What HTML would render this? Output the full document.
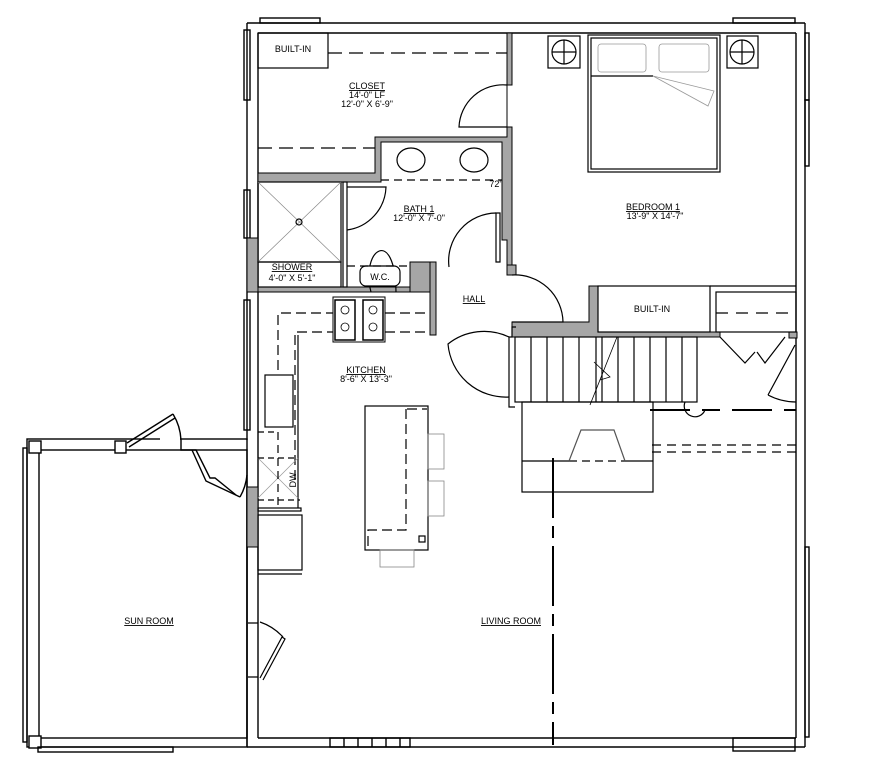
<!DOCTYPE html>
<html><head><meta charset="utf-8"><style>
html,body{margin:0;padding:0;background:#fff;}
svg{display:block;}
text{font-family:"Liberation Sans",sans-serif;font-size:9px;fill:#000;}
</style></head><body>
<svg width="891" height="776" viewBox="0 0 891 776" xmlns="http://www.w3.org/2000/svg">
<g fill="none" stroke="#000" stroke-width="1.4">
<!-- main house outer walls -->
<line x1="247" y1="23" x2="805" y2="23"/>
<line x1="258" y1="33" x2="796" y2="33"/>
<line x1="247" y1="23" x2="247" y2="440"/>
<line x1="258" y1="33" x2="258" y2="738"/>
<line x1="247" y1="487" x2="247" y2="747"/>
<line x1="805" y1="23" x2="805" y2="747"/>
<line x1="796" y1="33" x2="796" y2="738"/>
<line x1="258" y1="738" x2="796" y2="738"/>
<line x1="247" y1="747" x2="805" y2="747"/>
<!-- windows -->
<rect x="244" y="30" width="6" height="70"/>
<rect x="244" y="190" width="6" height="48"/>
<rect x="244" y="300" width="6" height="130"/>
<rect x="805" y="33" width="4" height="67"/>
<rect x="805" y="100" width="4" height="66"/>
<rect x="805" y="547" width="4" height="190"/>
<rect x="733" y="738" width="62" height="13"/>
<rect x="330" y="738" width="80" height="9"/>
<line x1="344" y1="738" x2="344" y2="747"/><line x1="358" y1="738" x2="358" y2="747"/><line x1="372" y1="738" x2="372" y2="747"/><line x1="386" y1="738" x2="386" y2="747"/><line x1="400" y1="738" x2="400" y2="747"/>
<rect x="260" y="18" width="60" height="5"/>
<rect x="733" y="18" width="62" height="5"/>
<!-- sun room -->
<rect x="27" y="439" width="220" height="308"/>
<rect x="39" y="450" width="208" height="288"/>
<rect x="23" y="448" width="4" height="294"/>
<rect x="29" y="441" width="12" height="12" fill="#fff"/>
<rect x="29" y="736" width="12" height="12" fill="#fff"/>
<rect x="115" y="441" width="11" height="12" fill="#fff"/>
<rect x="38" y="747" width="135" height="5"/>
<line x1="160" y1="439" x2="180" y2="439" stroke="#fff" stroke-width="14"/>
<line x1="127" y1="443" x2="173" y2="414"/><line x1="129" y1="447" x2="175" y2="418"/>
<path d="M173 414 A55 55 0 0 1 181 440"/>
<path d="M181 440 L181 450 L196 450 L210 478 L215 478 L236 495"/>
<path d="M192 450 L206 481 L240 497"/>
<path d="M240 497 A55 55 0 0 0 247 475"/>
</g>
<!-- gray walls -->
<g fill="#a6a6a6" stroke="#000" stroke-width="1">
<rect x="247" y="238" width="11" height="54"/>
<rect x="247" y="487" width="11" height="60"/>
<path d="M258 173 H375 V137 H507 V33 H512 V85 H507 V127 H512 V272 H507 V240 H502 V142 H381 V182 H258 Z"/>
<path d="M258 287 H410 V262 H432 V335 H436 V292 H258 Z"/>
<path d="M410 262 H432 V292 H410 Z"/>
<rect x="430" y="262" width="6" height="73"/>
<path d="M507 265 H516 V275 H507 Z"/>
<path d="M512 322 H589 V286 H598 V332 H720 V337 H512 Z"/>
<rect x="789" y="332" width="8" height="6"/>
</g>
<g fill="none" stroke="#000" stroke-width="1.2">
<!-- closet -->
<rect x="258" y="33" width="70" height="35"/>
<line x1="328" y1="53" x2="507" y2="53" stroke-dasharray="14 7"/>
<line x1="258" y1="148" x2="375" y2="148" stroke-dasharray="14 7"/>
<path d="M507 85 A44 44 0 0 0 459 127 H507"/>
<!-- bath -->
<ellipse cx="411" cy="160" rx="14" ry="12"/>
<ellipse cx="474" cy="160" rx="14" ry="12"/>
<line x1="381" y1="180" x2="502" y2="180" stroke-dasharray="8 5"/>
<rect x="343" y="182" width="4" height="105"/>
<path d="M347 187 H386 A45 45 0 0 1 347 230"/>
<path d="M371 292 C360 250 395 225 396 292"/>
<rect x="360" y="266" width="40" height="20" rx="6" fill="#fff"/>
<line x1="347" y1="266" x2="410" y2="266" stroke-dasharray="8 5"/>
<path d="M496 213 H500 V262 H496 Z"/>
<path d="M496 213 A48 48 0 0 0 449 267"/>
<!-- shower -->
<rect x="258" y="182" width="83" height="80"/>
<line x1="258" y1="182" x2="341" y2="262" stroke="#888" stroke-width="0.7"/>
<line x1="341" y1="182" x2="258" y2="262" stroke="#888" stroke-width="0.7"/>
<circle cx="299" cy="222" r="3"/>
<rect x="258" y="262" width="83" height="25"/>
<!-- bedroom -->
<rect x="548" y="36" width="32" height="32"/><circle cx="564" cy="52" r="12"/><line x1="564" y1="40" x2="564" y2="64"/><line x1="552" y1="52" x2="576" y2="52"/>
<rect x="727" y="36" width="31" height="32"/><circle cx="742" cy="52" r="12"/><line x1="742" y1="40" x2="742" y2="64"/><line x1="730" y1="52" x2="754" y2="52"/>
<rect x="588" y="35" width="132" height="137"/>
<rect x="591" y="38" width="126" height="131"/>
<line x1="591" y1="76" x2="653" y2="76"/>
<g stroke="#999" stroke-width="0.8"><rect x="598" y="44" width="48" height="28" rx="3"/><rect x="659" y="44" width="50" height="28" rx="3"/><path d="M653 76 L714 91 L708 106 Z"/></g>
<rect x="598" y="286" width="112" height="46"/>
<line x1="710" y1="286" x2="796" y2="286"/>
<rect x="716" y="292" width="80" height="40"/>
<line x1="716" y1="313" x2="796" y2="313" stroke-dasharray="12 8"/>
<path d="M720 337 L745 363 L755 352 M785 337 L765 363 L757 352"/>
<path d="M795 345 L768 395 M768 395 A60 60 0 0 0 796 402"/>
<!-- hall door -->
<path d="M512 275 A48 48 0 0 1 563 322 H512"/>
<path d="M516 327 H512 V337 H509 V407 H515"/>
<path d="M509 337 A58 58 0 0 0 448 344 A58 58 0 0 0 509 397"/>
<!-- stairs -->
<rect x="515" y="337" width="182" height="65"/>
<g><line x1="531" y1="337" x2="531" y2="402"/><line x1="547" y1="337" x2="547" y2="402"/><line x1="563" y1="337" x2="563" y2="402"/><line x1="579" y1="337" x2="579" y2="402"/><line x1="596" y1="337" x2="596" y2="402"/><line x1="602" y1="337" x2="602" y2="402"/><line x1="618" y1="337" x2="618" y2="402"/><line x1="634" y1="337" x2="634" y2="402"/><line x1="650" y1="337" x2="650" y2="402"/><line x1="666" y1="337" x2="666" y2="402"/><line x1="682" y1="337" x2="682" y2="402"/></g>
<path d="M617 337 L590 405 M594 362 L610 377 L600 380" stroke-width="0.8"/>
<path d="M685 402 A10 10 0 0 0 705 410"/>
<line x1="650" y1="410" x2="796" y2="410" stroke-width="2" stroke-dasharray="40 12 18 12"/>
<line x1="652" y1="445" x2="796" y2="445" stroke-dasharray="9 6"/>
<line x1="652" y1="452" x2="796" y2="452" stroke-dasharray="9 6"/>
<!-- fireplace -->
<rect x="522" y="402" width="131" height="90"/>
<line x1="522" y1="461" x2="569" y2="461"/>
<line x1="569" y1="461" x2="625" y2="461" stroke-dasharray="8 5"/>
<line x1="625" y1="461" x2="653" y2="461"/>
<path d="M569 461 L581 430 H614 L625 461" stroke="#555"/>
<line x1="553" y1="458" x2="553" y2="745" stroke-width="2" stroke-dasharray="60 8 12 8"/>
<!-- kitchen -->
<path d="M278 370 V313 H333 M385 313 H430" stroke-dasharray="10 5"/>
<path d="M295 480 V332 H333 M385 332 H430" stroke-dasharray="10 5"/>
<line x1="298" y1="335" x2="298" y2="508"/>
<rect x="333" y="297" width="52" height="45" stroke-width="1"/>
<rect x="335" y="300" width="20" height="40" stroke-width="1.5"/><rect x="363" y="300" width="20" height="40" stroke-width="1.5"/>
<circle cx="345" cy="310" r="4" stroke-width="0.8"/><circle cx="345" cy="327" r="4" stroke-width="0.8"/><circle cx="373" cy="310" r="4" stroke-width="0.8"/><circle cx="373" cy="327" r="4" stroke-width="0.8"/>
<rect x="265" y="375" width="28" height="52"/>
<line x1="258" y1="432" x2="278" y2="432" stroke-dasharray="6 4"/>
<rect x="258" y="458" width="40" height="40" stroke="none"/>
<g stroke="#999" stroke-width="0.7"><line x1="258" y1="458" x2="298" y2="498"/><line x1="298" y1="458" x2="258" y2="498"/></g>
<line x1="278" y1="432" x2="278" y2="508" stroke-dasharray="8 5"/>
<line x1="258" y1="458" x2="298" y2="458" stroke-dasharray="6 4"/>
<line x1="258" y1="500" x2="300" y2="500" stroke-dasharray="6 4"/>
<rect x="258" y="508" width="43" height="3"/>
<rect x="258" y="515" width="44" height="55"/>
<line x1="258" y1="574" x2="302" y2="574"/>
<!-- island -->
<rect x="365" y="406" width="63" height="144"/>
<path d="M407 409 H427 M406 409 V530 H368 V548" stroke-dasharray="10 5"/>
<rect x="419" y="536" width="6" height="6"/>
<g stroke="#888" stroke-width="0.8"><rect x="428" y="434" width="16" height="35"/><rect x="428" y="481" width="16" height="35"/><rect x="380" y="550" width="34" height="17"/></g>
<!-- sunroom door to living -->
<path d="M258 623 H248 M258 677 H248"/>
<path d="M260 678 L282 637 L285 639 L263 680 M260 622 A55 55 0 0 1 283 637"/>
</g>
<!-- labels -->
<g text-anchor="middle">
<text x="293" y="52">BUILT-IN</text>
<text x="652" y="312">BUILT-IN</text>
<text x="367" y="89" text-decoration="underline">CLOSET</text>
<text x="367" y="98">14'-0" LF</text>
<text x="367" y="107">12'-0" X 6'-9"</text>
<text x="419" y="212" text-decoration="underline">BATH 1</text>
<text x="419" y="221">12'-0" X 7'-0"</text>
<text x="496" y="187" font-size="8">72"</text>
<text x="292" y="270" text-decoration="underline">SHOWER</text>
<text x="292" y="281">4'-0" X 5'-1"</text>
<text x="380" y="280" font-size="8">W.C.</text>
<text x="474" y="302" text-decoration="underline">HALL</text>
<text x="653" y="210" text-decoration="underline">BEDROOM 1</text>
<text x="655" y="219">13'-9" X 14'-7"</text>
<text x="366" y="373" text-decoration="underline">KITCHEN</text>
<text x="366" y="382">8'-6" X 13'-3"</text>
<text x="149" y="624" text-decoration="underline">SUN ROOM</text>
<text x="511" y="624" text-decoration="underline">LIVING ROOM</text>
<text x="0" y="0" transform="translate(296,480) rotate(-90)" font-size="10">DW</text>
</g>
</svg>
</body></html>
